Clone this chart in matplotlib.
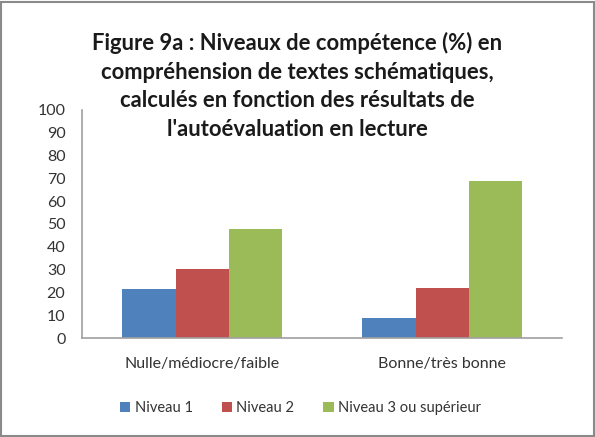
import matplotlib
matplotlib.use("Agg")
import matplotlib.pyplot as plt
import numpy as np

categories = ["Nulle/médiocre/faible", "Bonne/très bonne"]
series_names = ["Niveau 1", "Niveau 2", "Niveau 3 ou supérieur"]
niveau1 = [21.5, 8.8]
niveau2 = [30.2, 21.9]
niveau3 = [47.8, 69.0]
colors = ["#4F81BD", "#C0504D", "#9BBB59"]
title = ("Figure 9a : Niveaux de compétence (%) en\n"
         "compréhension de textes schématiques,\n"
         "calculés en fonction des résultats de\n"
         "l'autoévaluation en lecture")

plt.rcParams['font.family'] = ['Lato', 'DejaVu Sans']

fig = plt.figure(figsize=(5.95, 4.37), dpi=100)
ax = fig.add_axes([0.138, 0.2265, 0.807, 0.522])

x = np.arange(len(categories))
width = 0.222
for k, vals in enumerate([niveau1, niveau2, niveau3]):
    ax.bar(x + (k - 1) * width, vals, width, color=colors[k],
           label=series_names[k], edgecolor='none')

ax.set_xlim(-0.5, 1.5)
ax.set_ylim(0, 100)
ax.set_yticks(range(0, 101, 10))
ax.set_xticks(x)
ax.set_xticklabels(categories)
ax.tick_params(axis='both', length=0, labelsize=11.5, colors='#333333')
ax.tick_params(axis='x', pad=14)
ax.tick_params(axis='y', pad=12)
for s in ['top', 'right']:
    ax.spines[s].set_visible(False)
for s in ['left', 'bottom']:
    ax.spines[s].set_color('#A0A0A0')
    ax.spines[s].set_linewidth(1.2)

fig.text(0.500, 0.927, title, ha='center', va='top', fontsize=15.8,
         fontweight='bold', color='#1a1a1a', linespacing=1.45)

leg = fig.legend(loc='center', bbox_to_anchor=(0.505, 0.067), ncol=3,
                 frameon=False, fontsize=10.5, handlelength=0.7,
                 handleheight=0.7, handletextpad=0.3, columnspacing=2.0)
for t in leg.get_texts():
    t.set_color('#333333')

border = plt.Rectangle((0.002, 0.002), 0.996, 0.994, transform=fig.transFigure,
                       fill=False, edgecolor='#8a8a8a', linewidth=1.5)
fig.patches.append(border)

fig.savefig("out.png", dpi=100)
